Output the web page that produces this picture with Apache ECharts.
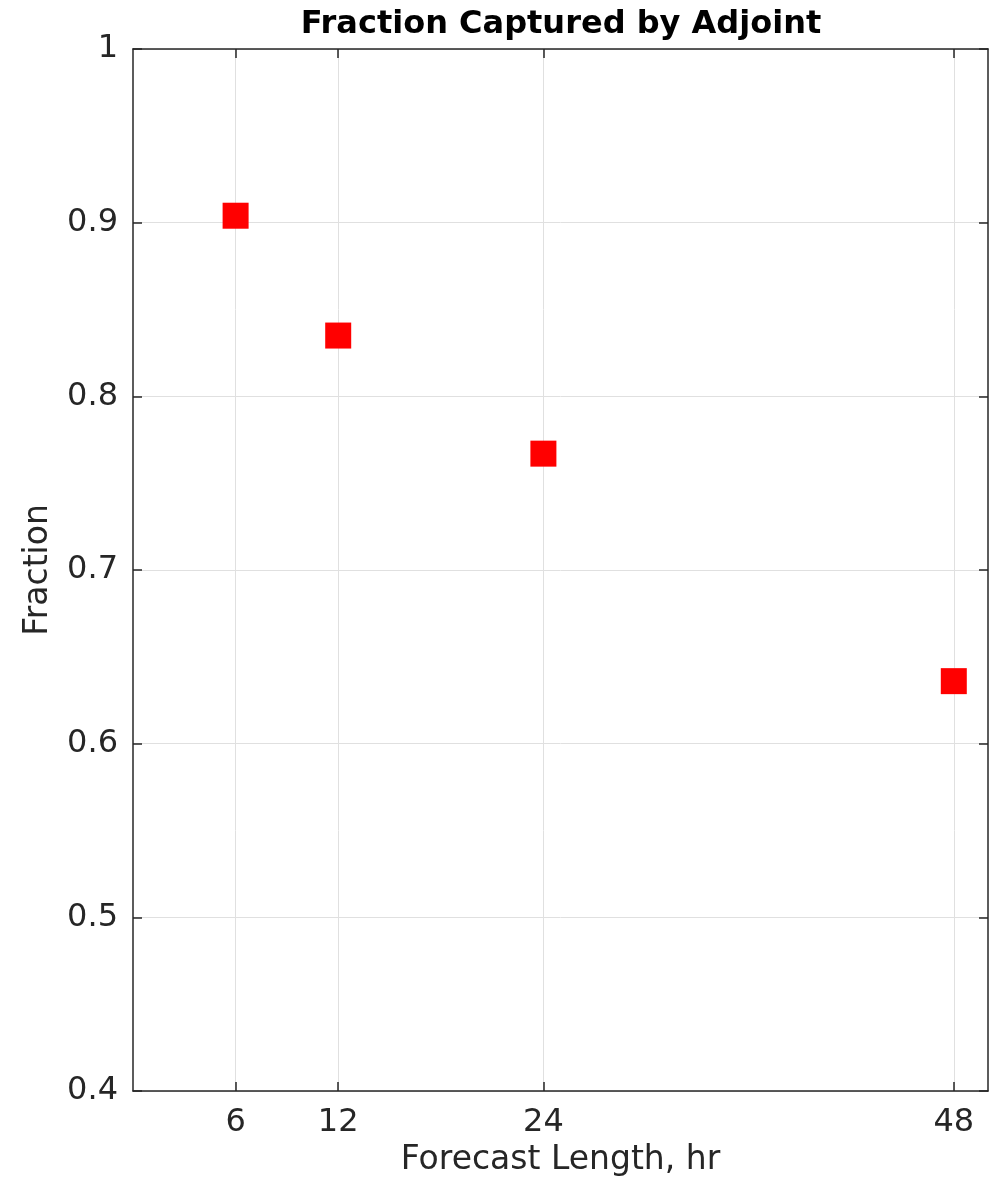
<!DOCTYPE html>
<html lang="en">
  <head>
    <meta charset="utf-8" />
    <title>Fraction Captured by Adjoint</title>
    <style>
      * {
        margin: 0;
        padding: 0;
      }
      #chart-container {
        position: relative;
        height: 100vh;
        width: 100vw;
        overflow: hidden;
        background: #fff;
      }
    </style>
  </head>
  <body>
    <div id="chart-container"></div>
    <script src="https://fastly.jsdelivr.net/npm/echarts@6/dist/echarts.min.js"></script>
    <script>
      // forecast lengths (hr) and captured fraction
      var forecastHours = [6, 12, 24, 48];
      var fractionValues = [0.904, 0.835, 0.767, 0.636];
      var xTicks = [6, 12, 24, 48];

      var points = forecastHours.map(function (h, i) {
        return [h, fractionValues[i]];
      });

      var font = "DejaVu Sans";
      var axisColor = "#262626";
      var gridColor = "#e0e0e0";

      var dom = document.getElementById("chart-container");
      var myChart = echarts.init(dom, null, { renderer: "canvas" });

      var tick = {
        show: true,
        inside: true,
        length: 9,
        lineStyle: { color: axisColor, width: 1.5 },
      };

      var option = {
        animation: false,
        title: {
          text: "Fraction Captured by Adjoint",
          left: 556,
          textAlign: "center",
          top: 4,
          textStyle: {
            fontFamily: font,
            fontSize: 32,
            fontWeight: "bold",
            color: "#000",
          },
        },
        grid: {
          left: 133,
          right: 6,
          top: 49,
          bottom: 98,
        },
        xAxis: [
          {
            type: "value",
            min: 0,
            max: 50,
            name: "Forecast Length, hr",
            nameLocation: "middle",
            nameGap: 52,
            nameTextStyle: { fontFamily: font, fontSize: 33, color: axisColor },
            axisLine: { onZero: false, lineStyle: { color: axisColor, width: 1.5 } },
            axisTick: Object.assign({ customValues: xTicks }, tick),
            axisLabel: {
              fontFamily: font,
              fontSize: 32,
              color: axisColor,
              margin: 16,
              hideOverlap: false,
              customValues: xTicks,
            },
            splitLine: { show: true, lineStyle: { color: gridColor, width: 1 } },
          },
          {
            type: "value",
            min: 0,
            max: 50,
            position: "top",
            axisLine: { onZero: false, lineStyle: { color: axisColor, width: 1.5 } },
            axisTick: Object.assign({ customValues: xTicks }, tick),
            axisLabel: { show: false },
            splitLine: { show: false },
          },
        ],
        yAxis: [
          {
            type: "value",
            min: 0.4,
            max: 1,
            interval: 0.1,
            position: "left",
            name: "Fraction",
            nameLocation: "middle",
            nameGap: 78,
            nameTextStyle: { fontFamily: font, fontSize: 33, color: axisColor },
            axisLine: { show: true, onZero: false, lineStyle: { color: axisColor, width: 1.5 } },
            axisTick: tick,
            axisLabel: {
              fontFamily: font,
              fontSize: 32,
              color: axisColor,
              margin: 15,
              formatter: function (v) {
                return String(Math.round(v * 10) / 10);
              },
            },
            splitLine: { show: true, lineStyle: { color: gridColor, width: 1 } },
          },
          {
            type: "value",
            min: 0.4,
            max: 1,
            interval: 0.1,
            position: "right",
            axisLine: { show: true, onZero: false, lineStyle: { color: axisColor, width: 1.5 } },
            axisTick: tick,
            axisLabel: { show: false },
            splitLine: { show: false },
          },
        ],
        series: [
          {
            name: "Fraction",
            type: "scatter",
            data: points,
            symbol: "rect",
            symbolSize: 26,
            itemStyle: { color: "#ff0000", opacity: 1 },
            z: 5,
          },
        ],
      };

      myChart.setOption(option);
      window.addEventListener("resize", myChart.resize);
    </script>
  </body>
</html>
